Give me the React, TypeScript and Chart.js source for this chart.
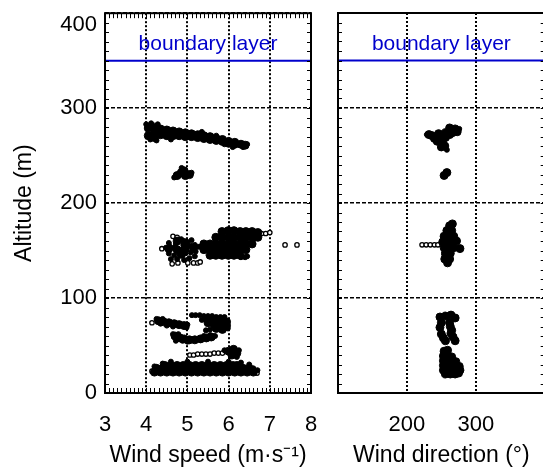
import React, { useEffect, useRef } from "react";
import { Chart, registerables } from "chart.js";

Chart.register(...registerables);

type Pt = [number, number];

// ---- axes ----
const speedRange: Pt = [3, 8];
const directionRange: Pt = [100, 400];
const altitudeRange: Pt = [0, 400];
const speedStep = 1;
const directionStep = 100;
const altitudeStep = 100;
const speedMinorStep = 0.1;
const altitudeMinorStep = 10;
const directionLabels = [200, 300];
const boundaryLayerAltitude = 350;
const boundaryLabel = "boundary layer";

// ---- wind speed (m/s) vs altitude (m) ----
// dense cores of the point clouds
const speedDense: Pt[] = [
  // 255-285 m band
  [4.05, 279], [4.05, 271], [4.2, 280], [4.2, 274], [4.2, 269], [4.35, 278], [4.35, 272],
  [4.5, 277], [4.5, 271], [4.65, 276], [4.65, 271], [4.8, 275], [4.8, 271], [4.95, 274],
  [4.95, 270], [5.1, 273], [5.1, 270], [5.25, 272], [5.25, 269], [5.4, 271], [5.4, 268],
  [5.55, 270], [5.55, 267], [5.7, 268], [5.7, 266], [5.85, 267], [5.85, 265], [6.0, 265],
  [6.0, 263], [6.15, 264], [6.15, 262], [6.3, 262], [6.4, 261],
  // ~230 m
  [4.75, 229], [4.85, 232], [4.92, 234], [4.95, 229], [5.05, 230],
  // 140-175 m
  [5.84, 170], [5.99, 171], [6.13, 171], [6.28, 170], [6.42, 170], [6.57, 170], [6.71, 169],
  [5.69, 164], [5.84, 164], [5.99, 164], [6.13, 164], [6.28, 164], [6.42, 164], [6.57, 164], [6.71, 164],
  [5.4, 157], [5.55, 157], [5.69, 157], [5.84, 157], [5.99, 157], [6.13, 157], [6.28, 157], [6.42, 157], [6.57, 157],
  [5.4, 151], [5.55, 151], [5.69, 151], [5.84, 151], [5.99, 151], [6.13, 151], [6.28, 151], [6.42, 151],
  [5.55, 145], [5.69, 145], [5.84, 145], [5.99, 145], [6.13, 145], [6.28, 145],
  [4.55, 152], [4.75, 151], [4.95, 152], [5.15, 153], [4.85, 146], [4.75, 160], [4.95, 158],
  // 65-80 m
  [4.3, 76], [4.42, 75], [4.55, 74], [4.68, 73], [4.8, 72], [4.92, 71],
  [5.6, 77], [5.72, 76], [5.85, 76], [5.95, 75], [5.5, 74], [5.65, 72], [5.8, 72], [5.95, 71],
  [5.7, 68], [5.85, 67],
  // 55-62 m
  [4.7, 60], [4.82, 58], [4.92, 57], [5.05, 56], [5.18, 56], [5.32, 57], [5.46, 58], [5.58, 59],
  // 38-46 m
  [6.0, 44], [6.12, 46], [6.08, 40], [6.2, 42],
  // 19-33 m
  [4.45, 29], [4.6, 29], [4.75, 29], [4.9, 29], [5.05, 29], [5.2, 29], [5.35, 29], [5.5, 29],
  [5.65, 29], [5.8, 29], [5.95, 29], [6.1, 29], [6.2, 29],
  [4.25, 26], [4.4, 26], [4.55, 26], [4.7, 26], [4.85, 26], [5.0, 26], [5.15, 26], [5.3, 26],
  [5.45, 26], [5.6, 26], [5.75, 26], [5.9, 26], [6.05, 26], [6.2, 26], [6.35, 26], [6.5, 26],
  [4.2, 22], [4.35, 22], [4.5, 22], [4.65, 22], [4.8, 22], [4.95, 22], [5.1, 22], [5.25, 22],
  [5.4, 22], [5.55, 22], [5.7, 22], [5.85, 22], [6.0, 22], [6.15, 22], [6.3, 22], [6.45, 22], [6.6, 22],
];

// ragged edges of the clouds
const speedEdge: Pt[] = [
  [4.0, 283], [4.12, 284], [4.28, 283], [4.1, 267], [4.25, 266], [4.6, 267], [5.35, 275],
  [5.7, 271], [6.45, 262], [6.35, 259], [6.1, 259], [5.9, 262],
  [4.68, 227], [5.1, 232], [4.86, 237],
  [4.48, 153], [4.58, 154], [4.68, 153], [4.78, 151], [4.88, 151], [4.98, 153], [5.08, 155],
  [5.18, 156], [5.28, 154], [4.85, 162], [4.92, 160], [5.0, 159], [5.1, 161], [4.55, 158],
  [4.72, 157], [4.9, 156], [4.55, 147], [4.68, 145], [4.82, 146], [4.95, 147], [5.08, 148],
  [5.2, 149], [4.6, 141], [4.75, 141], [4.92, 140], [5.05, 142], [5.18, 144], [6.3, 143],
  [6.4, 143], [6.45, 144],
  [4.25, 78], [4.4, 78], [4.5, 71], [4.65, 70], [4.98, 69], [5.0, 72], [4.35, 73],
  [5.11, 82], [5.2, 82], [5.3, 82], [5.4, 81], [5.5, 81], [5.6, 81], [5.7, 80], [5.8, 80],
  [5.9, 80], [5.35, 77], [5.45, 77], [5.45, 66], [5.55, 67], [5.98, 68],
  [4.65, 62], [4.78, 62], [4.72, 55], [4.88, 55], [5.0, 54], [5.67, 60], [5.55, 61], [5.4, 60],
  [6.25, 45], [6.2, 38], [5.9, 45],
  [4.2, 28], [6.6, 26], [6.5, 30], [6.3, 32], [6.0, 33], [5.5, 33], [5.0, 33], [4.6, 33],
  [4.4, 31], [6.7, 24],
];

// isolated points (open circles)
const speedIsolated: Pt[] = [
  [4.38, 152], [4.65, 165], [4.75, 164], [4.63, 136], [4.77, 137], [5.01, 137], [5.15, 137],
  [5.25, 137], [5.31, 138], [6.7, 168], [6.8, 168], [6.9, 168], [7.0, 169], [7.37, 156],
  [7.66, 156], [4.14, 74], [5.06, 40], [5.15, 40], [5.25, 41], [5.35, 41], [5.45, 41],
  [5.55, 41], [5.65, 42], [5.75, 42], [5.85, 42], [4.14, 23], [6.69, 21],
];

// ---- wind direction (deg) vs altitude (m) ----
const directionDense: Pt[] = [
  [262, 279], [270, 278], [266, 274], [256, 274], [246, 273], [236, 271], [248, 268], [256, 269],
  [244, 265], [252, 263], [250, 259], [255, 260], [262, 272], [273, 275], [240, 268], [232, 272],
  [254, 229], [258, 232],
  [262, 176], [266, 178], [258, 171], [265, 171], [254, 165], [261, 165], [268, 165], [252, 159],
  [259, 159], [266, 159], [272, 160], [254, 153], [261, 153], [268, 153], [277, 152], [256, 147],
  [263, 147], [255, 141], [262, 141], [259, 137],
  [248, 80], [256, 81], [264, 82], [270, 79], [250, 74], [262, 74], [248, 69], [263, 70], [265, 66],
  [250, 62], [253, 58], [256, 55], [264, 63], [267, 59], [270, 55],
  [254, 44], [259, 45], [253, 39], [260, 39], [265, 38], [253, 34], [259, 34], [266, 34], [271, 33],
  [253, 29], [259, 29], [265, 29], [271, 29], [276, 28], [253, 24], [259, 24], [265, 24], [271, 24],
  [277, 24], [256, 20], [263, 20], [270, 20], [275, 21],
];

const directionEdge: Pt[] = [[229, 272], [276, 278], [258, 256]];

const directionIsolated: Pt[] = [[222, 156], [228, 156], [234, 156], [240, 156], [245, 156]];

const FONT = '"Liberation Sans", Arial, Helvetica, sans-serif';
const BLUE = "#0000cc";
const TICK_SIZE = 22;
const TITLE_SIZE = 23;

const toXY = (pts: Pt[]) => pts.map(([x, y]) => ({ x, y }));

function framePlugin(opts: {
  minorX?: number;
  minorY: number;
  topLabel?: string;
}) {
  return {
    id: "frame",
    afterDatasetsDraw(chart: any) {
      const { ctx, chartArea: a, scales } = chart;
      const xs = scales.x;
      const ys = scales.y;
      ctx.save();
      ctx.strokeStyle = "#000";
      ctx.lineWidth = 1;
      ctx.setLineDash([]);
      ctx.beginPath();
      if (opts.minorX) {
        const n = Math.round((xs.max - xs.min) / opts.minorX);
        for (let i = 1; i < n; i++) {
          const px = Math.round(xs.getPixelForValue(xs.min + i * opts.minorX)) + 0.5;
          ctx.moveTo(px, a.bottom);
          ctx.lineTo(px, a.bottom - 5);
          ctx.moveTo(px, a.top);
          ctx.lineTo(px, a.top + 5);
        }
      }
      const m = Math.round((ys.max - ys.min) / opts.minorY);
      for (let i = 1; i < m; i++) {
        const py = Math.round(ys.getPixelForValue(ys.min + i * opts.minorY)) + 0.5;
        ctx.moveTo(a.left, py);
        ctx.lineTo(a.left + 4, py);
        ctx.moveTo(a.right, py);
        ctx.lineTo(a.right - 4, py);
      }
      ctx.stroke();
      ctx.lineWidth = 2;
      ctx.strokeRect(a.left, a.top, a.right - a.left, a.bottom - a.top);

      ctx.fillStyle = BLUE;
      ctx.font = `21px ${FONT}`;
      ctx.textAlign = "center";
      ctx.textBaseline = "alphabetic";
      ctx.fillText(boundaryLabel, (a.left + a.right) / 2, ys.getPixelForValue(boundaryLayerAltitude) - 11);

      if (opts.topLabel) {
        ctx.fillStyle = "#000";
        ctx.font = `${TICK_SIZE}px ${FONT}`;
        ctx.textAlign = "right";
        ctx.textBaseline = "middle";
        ctx.fillText(opts.topLabel, a.left - 8, ys.getPixelForValue(altitudeRange[1]) + 12);
      }
      ctx.restore();
    },
  };
}

function datasets(dense: Pt[], edge: Pt[], isolated: Pt[], range: Pt) {
  return [
    {
      data: toXY(dense),
      pointRadius: 4,
      pointBackgroundColor: "#000",
      pointBorderColor: "#000",
      pointBorderWidth: 1,
      showLine: false,
    },
    {
      data: toXY(edge),
      pointRadius: 2.5,
      pointBackgroundColor: "#000",
      pointBorderColor: "#000",
      pointBorderWidth: 1,
      showLine: false,
    },
    {
      data: toXY(isolated),
      pointRadius: 2.2,
      pointBackgroundColor: "#fff",
      pointBorderColor: "#000",
      pointBorderWidth: 1.3,
      showLine: false,
    },
    {
      data: [
        { x: range[0], y: boundaryLayerAltitude },
        { x: range[1], y: boundaryLayerAltitude },
      ],
      showLine: true,
      borderColor: BLUE,
      borderWidth: 2,
      pointRadius: 0,
    },
  ];
}

const hiddenTick = "rgba(0,0,0,0)";

export default function App() {
  const leftRef = useRef<HTMLCanvasElement>(null);
  const rightRef = useRef<HTMLCanvasElement>(null);

  useEffect(() => {
    Chart.defaults.font.family = FONT;
    Chart.defaults.color = "#000";

    const xTitle = (text: string) => ({
      display: true,
      text,
      font: { size: TITLE_SIZE },
      color: "#000",
      padding: { top: 0, bottom: 6 },
    });

    const left = new Chart(leftRef.current as HTMLCanvasElement, {
      type: "scatter",
      data: { datasets: datasets(speedDense, speedEdge, speedIsolated, speedRange) as any },
      options: {
        animation: false,
        responsive: false,
        devicePixelRatio: 1,
        layout: { padding: { left: 0, right: 9, top: 13, bottom: 0 } },
        plugins: { legend: { display: false }, tooltip: { enabled: false } },
        scales: {
          x: {
            type: "linear",
            min: speedRange[0],
            max: speedRange[1],
            ticks: { stepSize: speedStep, autoSkip: false, maxRotation: 0, padding: 1, font: { size: TICK_SIZE }, color: "#000" },
            grid: { color: "#000", lineWidth: 2, drawTicks: true, tickLength: 18, tickColor: hiddenTick },
            border: { display: false, dash: [2, 2] },
            title: xTitle("Wind speed (m·s⁻¹)"),
            afterFit: (s: any) => { s.height = 82; },
          },
          y: {
            type: "linear",
            min: altitudeRange[0],
            max: altitudeRange[1],
            ticks: {
              stepSize: altitudeStep,
              padding: 0,
              font: { size: TICK_SIZE },
              color: "#000",
              callback: (v: any) => (v === altitudeRange[1] ? "" : String(v)),
            },
            grid: { color: "#000", lineWidth: 1.5, drawTicks: true, tickLength: 8, tickColor: hiddenTick },
            border: { display: false, dash: [4, 2] },
            title: { display: true, text: "Altitude (m)", font: { size: TITLE_SIZE }, color: "#000", padding: 11 },
            afterFit: (s: any) => { s.width = 105; },
          },
        },
      } as any,
      plugins: [framePlugin({ minorX: speedMinorStep, minorY: altitudeMinorStep, topLabel: String(altitudeRange[1]) })],
    });

    const right = new Chart(rightRef.current as HTMLCanvasElement, {
      type: "scatter",
      data: { datasets: datasets(directionDense, directionEdge, directionIsolated, directionRange) as any },
      options: {
        animation: false,
        responsive: false,
        devicePixelRatio: 1,
        layout: { padding: { left: 0, right: 5, top: 13, bottom: 0 } },
        plugins: { legend: { display: false }, tooltip: { enabled: false } },
        scales: {
          x: {
            type: "linear",
            min: directionRange[0],
            max: directionRange[1],
            ticks: {
              stepSize: directionStep,
              autoSkip: false,
              maxRotation: 0,
              padding: 1,
              font: { size: TICK_SIZE },
              color: "#000",
              callback: (v: any) => (directionLabels.includes(v) ? String(v) : ""),
            },
            grid: { color: "#000", lineWidth: 2, drawTicks: true, tickLength: 18, tickColor: hiddenTick },
            border: { display: false, dash: [2, 2] },
            title: xTitle("Wind direction (°)"),
            afterFit: (s: any) => { s.height = 82; },
          },
          y: {
            type: "linear",
            min: altitudeRange[0],
            max: altitudeRange[1],
            ticks: { stepSize: altitudeStep, display: false },
            grid: { color: "#000", lineWidth: 1.5, drawTicks: false },
            border: { display: false, dash: [4, 2] },
            afterFit: (s: any) => { s.width = 18; },
          },
        },
      } as any,
      plugins: [framePlugin({ minorY: altitudeMinorStep })],
    });

    return () => {
      left.destroy();
      right.destroy();
    };
  }, []);

  return (
    <div
      style={{
        position: "absolute",
        left: 0,
        top: 0,
        width: 543,
        height: 475,
        overflow: "hidden",
        background: "#fff",
      }}
    >
      <canvas ref={leftRef} width={320} height={475} style={{ position: "absolute", left: 0, top: 0 }} />
      <canvas ref={rightRef} width={230} height={475} style={{ position: "absolute", left: 320, top: 0 }} />
    </div>
  );
}
